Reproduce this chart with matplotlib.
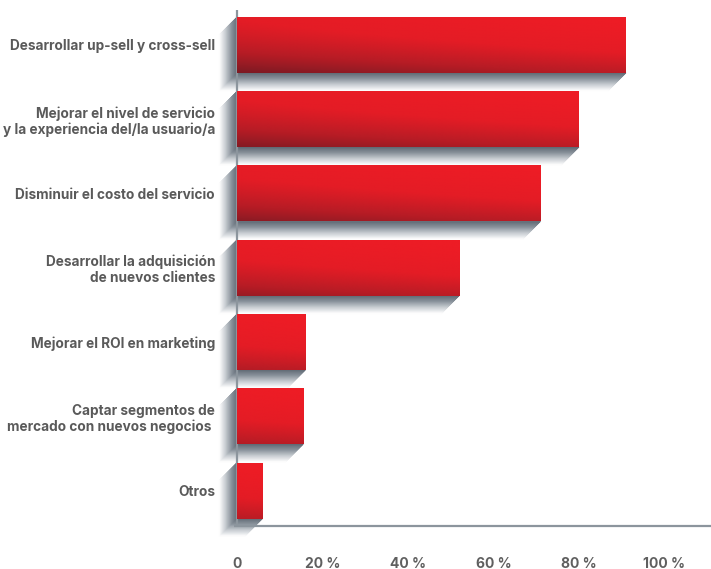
import numpy as np
import matplotlib
matplotlib.use("Agg")
import matplotlib.pyplot as plt
from matplotlib.colors import LinearSegmentedColormap
from matplotlib.collections import PolyCollection

# Survey answers (% of respondents)
categories = [
    "Desarrollar up-sell y cross-sell",
    "Mejorar el nivel de servicio\ny la experiencia del/la usuario/a",
    "Disminuir el costo del servicio",
    "Desarrollar la adquisición\nde nuevos clientes",
    "Mejorar el ROI en marketing",
    "Captar segmentos de\nmercado con nuevos negocios ",
    "Otros",
]
values = [91, 80, 71, 52, 16, 15.5, 6]
xticks = [0, 20, 40, 60, 80, 100]
xtick_labels = ["0", "20 %", "40 %", "60 %", "80 %", "100 %"]

plt.rcParams["font.family"] = ["Inter", "DejaVu Sans"]

W, H, DPI = 711, 569, 100
fig = plt.figure(figsize=(W / DPI, H / DPI), dpi=DPI)

# One axes spanning the whole canvas; the plotting frame sits inside it so the
# drop shadows can spill past the axis lines.
XMAX = 110.9
PX_X = (W - 237) / XMAX                 # pixels per percentage point
X_LEFT = -237 / PX_X
AX_TOP, AX_BOT = -0.471, 6.482          # category range covered by the frame
PX_Y = (526.3 - 10) / (AX_BOT - AX_TOP)  # pixels per category step
Y_TOP = AX_TOP - 10 / PX_Y
Y_BOT = AX_BOT + (H - 526.3) / PX_Y

ax = fig.add_axes([0, 0, 1, 1])
ax.set_xlim(X_LEFT, XMAX)
ax.set_ylim(Y_BOT, Y_TOP)
ax.axis("off")

bar_h = 0.754
ypos = np.arange(len(categories))

# Offset of the drop shadow in data units (~18 px down-left)
dx = 18 / PX_X
dy = 18 / PX_Y

red_cmap = LinearSegmentedColormap.from_list(
    "red", ["#ee1c25", "#e41c25", "#b51c25", "#721a23"])
grey_cmap = LinearSegmentedColormap.from_list(
    "grey", ["#5e6873", "#8a939c", "#c9ced3", "#ffffff"])

bars = ax.barh(ypos, values, height=bar_h, color="none", zorder=3)

n_bands = 36
for rect in bars:
    x0, x1 = rect.get_x(), rect.get_x() + rect.get_width()
    y0, y1 = rect.get_y(), rect.get_y() + rect.get_height()  # y1 is the lower edge

    # Shadow: L-shaped bands swept down-left from the bar, fading to white
    polys, cols = [], []
    for k in range(n_bands):
        c0, c1 = k / n_bands, (k + 1) / n_bands
        polys.append([
            (x0 - c1 * dx, y0 + c1 * dy), (x0 - c1 * dx, y1 + c1 * dy),
            (x1 - c1 * dx, y1 + c1 * dy), (x1 - c0 * dx, y1 + c0 * dy),
            (x0 - c0 * dx, y1 + c0 * dy), (x0 - c0 * dx, y0 + c0 * dy)])
        cols.append(grey_cmap((c0 + c1) / 2))
    ax.add_collection(PolyCollection(polys, facecolors=cols, edgecolors=cols,
                                     linewidths=0.4, zorder=1))

    # Bar body: bright red at the top right, darker towards the bottom left
    xs = np.linspace(x0, x1, 300)
    ys = np.linspace(y0, y1, 80)
    X, Y = np.meshgrid(xs, ys)
    v = (Y - y0) / (y1 - y0)
    d = 0.62 * v ** 1.4 + 0.33 * (x1 - X) / 91
    body = ax.imshow(np.clip(d, 0, 1), cmap=red_cmap, vmin=0, vmax=1,
                     origin="upper", extent=(x0, x1, y1, y0), aspect="auto",
                     interpolation="bilinear", zorder=3)
    body.set_clip_path(rect)

ax.set_xlim(X_LEFT, XMAX)
ax.set_ylim(Y_BOT, Y_TOP)

# Axis lines
axis_col = "#8c959d"
ax.vlines(0, AX_TOP, AX_BOT, colors=axis_col, linewidth=1.6, zorder=2.5)
ax.hlines(AX_BOT, -3 / PX_X, XMAX, colors=axis_col, linewidth=1.6, zorder=2.5)

# Tick labels
for t, lab in zip(xticks, xtick_labels):
    ax.text(t, AX_BOT + 41.7 / PX_Y, lab, ha="center", va="baseline",
            fontsize=10, fontweight="bold", color="#5f5f5f")
for y, cat in zip(ypos, categories):
    ax.text(-22 / PX_X, y, cat, ha="right", va="center_baseline",
            fontsize=9.8, fontweight="bold", color="#5a5a5a", linespacing=1.15)

fig.savefig("out.png", dpi=DPI)
